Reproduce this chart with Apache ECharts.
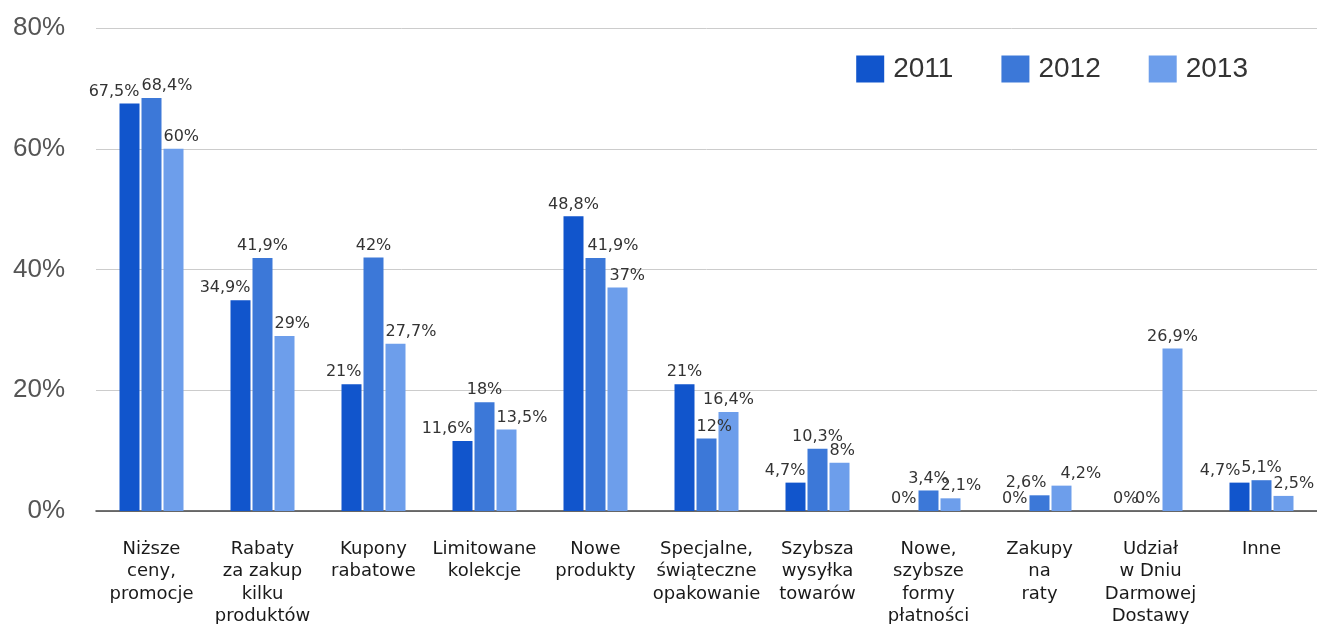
<!DOCTYPE html>
<html>
<head>
<meta charset="utf-8">
<script src="https://cdn.jsdelivr.net/npm/echarts@6/dist/echarts.min.js"></script>
<style>
  html, body { margin: 0; padding: 0; background: #fff; }
  #chart { width: 1317px; height: 624px; }
</style>
</head>
<body>
<div id="chart"></div>
<script>
// Categories (line breaks as shown under the axis)
const categories = [
  'Niższe\nceny,\npromocje',
  'Rabaty\nza zakup\nkilku\nproduktów',
  'Kupony\nrabatowe',
  'Limitowane\nkolekcje',
  'Nowe\nprodukty',
  'Specjalne,\nświąteczne\nopakowanie',
  'Szybsza\nwysyłka\ntowarów',
  'Nowe,\nszybsze\nformy\npłatności',
  'Zakupy\nna\nraty',
  'Udział\nw Dniu\nDarmowej\nDostawy',
  'Inne'
];

const years = ['2011', '2012', '2013'];

// Percent values per year
const values2011 = [67.5, 34.9, 21, 11.6, 48.8, 21, 4.7, 0, 0, 0, 4.7];
const values2012 = [68.4, 41.9, 42, 18, 41.9, 12, 10.3, 3.4, 2.6, 0, 5.1];
const values2013 = [60, 29, 27.7, 13.5, 37, 16.4, 8, 2.1, 4.2, 26.9, 2.5];

const yTicks = [0, 20, 40, 60, 80];

const colors = ['#1155cc', '#3c78d8', '#6d9eeb'];

// Value-label alignment per year, so neighbouring labels don't collide
const alignByYear = [
  ['right', 'right', 'right', 'right', 'center', 'center', 'right', 'right', 'right', 'right', 'right'],
  ['left', 'center', 'center', 'center', 'left', 'left', 'center', 'center', 'right', 'right', 'center'],
  ['left', 'left', 'left', 'left', 'left', 'center', 'left', 'left', 'left', 'center', 'left']
];
// Extra horizontal nudges (px) for a few crowded labels
const nudgeByYear = [
  [0, 0, 0, 0, 0, 0, 0, 0, 0, 0, -9],
  [0, 0, 0, 0, 2, 0, 0, 0, -3, 0, 0],
  [0, 0, 0, 0, 2, 0, 0, 0, 9, 0, 0]
];

const fmt = v => String(v).replace('.', ',') + '%';

function labelFor(align, nudge) {
  const x = align === 'right' ? '100%' : (align === 'left' ? '0%' : '50%');
  return {
    show: true,
    position: [x, 0],
    align: align,
    verticalAlign: 'bottom',
    offset: [nudge, -4],
    fontFamily: 'DejaVu Sans',
    fontSize: 16,
    color: '#333',
    formatter: p => fmt(p.value)
  };
}

function buildSeries(name, vals, idx) {
  return {
    name: name,
    type: 'bar',
    barWidth: 20,
    barGap: '10%',
    itemStyle: { color: colors[idx] },
    data: vals.map((v, i) => ({ value: v, label: labelFor(alignByYear[idx][i], nudgeByYear[idx][i]) })),
    animation: false
  };
}

const chart = echarts.init(document.getElementById('chart'));
chart.setOption({
  animation: false,
  grid: { left: 96, right: 0, top: 28, bottom: 113, containLabel: false, outerBoundsMode: 'none' },
  legend: {
    data: years,
    right: 64,
    top: 50,
    icon: 'rect',
    itemWidth: 28,
    itemHeight: 27,
    itemGap: 48,
    textStyle: { fontFamily: 'Liberation Sans', fontSize: 28, color: '#333', padding: [0, 0, 0, 4] }
  },
  xAxis: {
    type: 'category',
    data: categories,
    axisTick: { show: false },
    axisLine: { show: true, lineStyle: { color: '#444', width: 1.5 } },
    axisLabel: {
      interval: 0,
      margin: 27,
      fontFamily: 'DejaVu Sans',
      fontSize: 18,
      lineHeight: 22.5,
      color: '#1a1a1a',
      align: 'center'
    }
  },
  yAxis: {
    type: 'value',
    min: yTicks[0],
    max: yTicks[yTicks.length - 1],
    interval: 20,
    axisLine: { show: false },
    axisTick: { show: false },
    splitLine: { lineStyle: { color: '#cccccc', width: 1 } },
    axisLabel: {
      margin: 31,
      fontFamily: 'Liberation Sans',
      fontSize: 26,
      color: '#555',
      formatter: v => v + '%'
    }
  },
  series: [
    buildSeries(years[0], values2011, 0),
    buildSeries(years[1], values2012, 1),
    buildSeries(years[2], values2013, 2)
  ]
});
</script>
</body>
</html>
